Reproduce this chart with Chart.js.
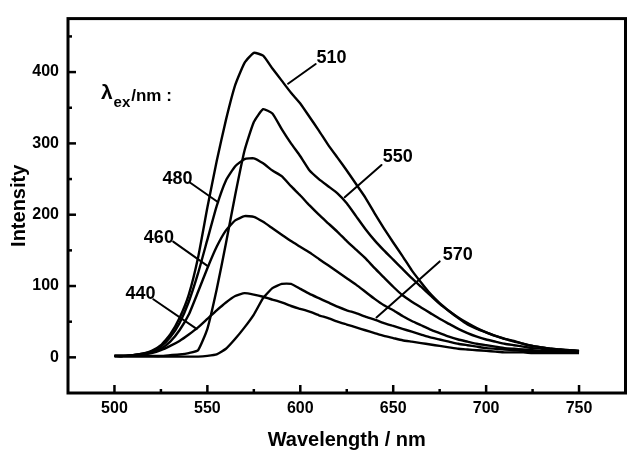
<!DOCTYPE html>
<html>
<head>
<meta charset="utf-8">
<script src="https://cdn.jsdelivr.net/npm/chart.js@4.4.1/dist/chart.umd.min.js"></script>
<style>
  html, body { margin: 0; padding: 0; background: #fff; }
  #wrap { width: 627px; height: 450px; }
</style>
</head>
<body>
<div id="wrap"><canvas id="c" width="627" height="450"></canvas></div>
<script>
// ---- data ----
const wavelengths = [500,505,510,515,520,525,530,535,540,545,550,555,560,565,570,575,580,585,590,595,600,605,610,615,620,625,630,635,640,645,650,655,660,665,670,675,680,685,690,695,700,705,710,715,720,725,730,735,740,745,750];

const ex440 = [2,2,3,4,6,10,16,23,32,42,54,66,77,86,90,88,85,81,77,72,68,64,59,55,50,46,42,38,34,30,27,24,22,20,18,16,14,12,11,10,9,8,7,7,7,6,6,6,6,6,6];
const ex460 = [2,2,3,4,7,12,22,38,60,92,125,155,178,192,198,197,190,181,172,163,155,147,138,129,120,111,102,92,82,73,66,58,51,45,39,34,29,25,22,19,17,15,13,12,11,10,9,9,8,8,7];
const ex480 = [2,2,3,5,8,15,28,48,78,118,165,212,248,268,278,279,272,262,254,240,227,213,200,188,176,163,151,139,125,112,99,87,78,70,62,54,47,40,34,29,25,22,19,17,15,13,12,11,10,9,8];
const ex510 = [2,2,3,5,9,17,32,55,88,140,210,275,333,382,413,427,423,405,388,371,356,337,318,298,280,262,243,224,202,181,161,142,122,105,89,76,65,55,46,40,35,30,26,23,19,16,14,12,11,10,9];
const ex550 = [2,2,2,2,2,2,3,4,6,10,40,95,160,228,290,330,348,342,320,300,282,262,250,240,230,216,198,180,164,150,137,124,111,99,87,75,65,56,48,41,35,30,26,22,19,16,14,12,11,10,9];
const ex570 = [1,1,1,1,1,1,1,1,1,1,2,4,12,26,42,60,83,97,103,103,96,89,83,77,71,66,62,57,53,48,44,40,36,32,28,25,22,19,17,15,13,12,11,10,9,9,8,8,8,7,7];

const seriesNames = ['440','460','480','510','550','570'];
const seriesValues = [ex440, ex460, ex480, ex510, ex550, ex570];

const xTickValues = [500,550,600,650,700,750];
const xMinorTicks = [525,575,625,675,725];
const yTickValues = [0,100,200,300,400];
const yMinorTicks = [50,150,250,350,450];

// curve labels and leader lines, in data units (nm, intensity)
const labelText = ['510','550','480','460','440','570'];
const labelAt   = [[616.8,420.6],[652.4,282.2],[533.9,250.8],[523.9,169.1],[514.0,90.6],[684.7,144.2]];
const leaderFrom = [[608.3,411.3],[643.7,269.7],[540.6,245.2],[531.6,162.2],[520.9,81.5],[675.0,134.5]];
const leaderTo   = [[593.4,383.6],[623.9,224.5],[555.8,217.5],[550.4,127.6],[544.2,40.0],[641.0,56.0]];
const legendTitleAt = [492.7, 362.9];

// ---- chart ----
const FONT = '"Liberation Sans", Arial, Helvetica, sans-serif';

const decorPlugin = {
  id: 'decor',
  afterDatasetsDraw(chart) {
    const {ctx, chartArea: a, scales: {x, y}} = chart;
    ctx.save();
    ctx.strokeStyle = '#000';
    ctx.fillStyle = '#000';
    // inward tick marks
    ctx.lineWidth = 2.5;
    ctx.lineCap = 'butt';
    const tick = (px, py, dx, dy) => { ctx.beginPath(); ctx.moveTo(px, py); ctx.lineTo(px + dx, py + dy); ctx.stroke(); };
    yTickValues.forEach(v => tick(a.left, y.getPixelForValue(v), 8, 0));
    yMinorTicks.forEach(v => tick(a.left, y.getPixelForValue(v), 4, 0));
    xTickValues.forEach(v => tick(x.getPixelForValue(v), a.bottom, 0, -8));
    xMinorTicks.forEach(v => tick(x.getPixelForValue(v), a.bottom, 0, -4));
    // frame
    ctx.lineWidth = 3;
    ctx.strokeRect(a.left, a.top, a.right - a.left, a.bottom - a.top);
    // leader lines and labels
    ctx.lineWidth = 2;
    ctx.lineCap = 'round';
    ctx.font = 'bold 18px ' + FONT;
    ctx.textAlign = 'center';
    ctx.textBaseline = 'middle';
    labelText.forEach((t, i) => {
      ctx.beginPath();
      ctx.moveTo(x.getPixelForValue(leaderFrom[i][0]), y.getPixelForValue(leaderFrom[i][1]));
      ctx.lineTo(x.getPixelForValue(leaderTo[i][0]), y.getPixelForValue(leaderTo[i][1]));
      ctx.stroke();
      ctx.fillText(t, x.getPixelForValue(labelAt[i][0]), y.getPixelForValue(labelAt[i][1]) + 1);
    });
    // "λex /nm :" title
    let lx = x.getPixelForValue(legendTitleAt[0]);
    const ly = y.getPixelForValue(legendTitleAt[1]);
    ctx.textAlign = 'left';
    ctx.textBaseline = 'alphabetic';
    ctx.font = 'bold 21px ' + FONT;
    ctx.fillText('λ', lx, ly);
    lx += ctx.measureText('λ').width + 1;
    ctx.font = 'bold 15px ' + FONT;
    ctx.fillText('ex', lx, ly + 8);
    lx += ctx.measureText('ex').width + 1;
    ctx.font = 'bold 17px ' + FONT;
    ctx.fillText('/nm :', lx, ly + 2);
    ctx.restore();
  }
};

new Chart(document.getElementById('c'), {
  type: 'line',
  data: {
    datasets: seriesNames.map((n, k) => ({
      label: n,
      data: wavelengths.map((w, i) => ({x: w, y: seriesValues[k][i]})),
      borderColor: '#000',
      borderWidth: 2.4,
      pointRadius: 0,
      tension: 0.15,
      fill: false
    }))
  },
  options: {
    responsive: false,
    animation: false,
    devicePixelRatio: 1,
    layout: { padding: { top: 14, right: 1.5, left: 0, bottom: 0 } },
    plugins: { legend: { display: false }, tooltip: { enabled: false } },
    scales: {
      x: {
        type: 'linear', position: 'bottom', min: 475, max: 775,
        grid: { display: false, drawTicks: false },
        border: { display: false },
        afterBuildTicks: s => { s.ticks = xTickValues.map(v => ({value: v})); },
        ticks: { color: '#000', padding: 6, maxRotation: 0, autoSkip: false,
                 font: { family: FONT, size: 16, weight: 'bold' } },
        title: { display: true, text: 'Wavelength / nm', color: '#000',
                 font: { family: FONT, size: 20, weight: 'bold', lineHeight: 1 },
                 padding: { top: 0, bottom: 0 } },
        afterFit: s => { s.height = 57; }
      },
      y: {
        type: 'linear', position: 'left', min: -50, max: 475,
        grid: { display: false, drawTicks: false },
        border: { display: false },
        afterBuildTicks: s => { s.ticks = yTickValues.map(v => ({value: v})); },
        ticks: { color: '#000', padding: 9,
                 font: { family: FONT, size: 16, weight: 'bold' } },
        title: { display: true, text: 'Intensity', color: '#000',
                 font: { family: FONT, size: 20, weight: 'bold', lineHeight: 1 },
                 padding: { top: 9, bottom: 0 } },
        afterFit: s => { s.width = 68; }
      }
    }
  },
  plugins: [decorPlugin]
});
</script>
</body>
</html>
